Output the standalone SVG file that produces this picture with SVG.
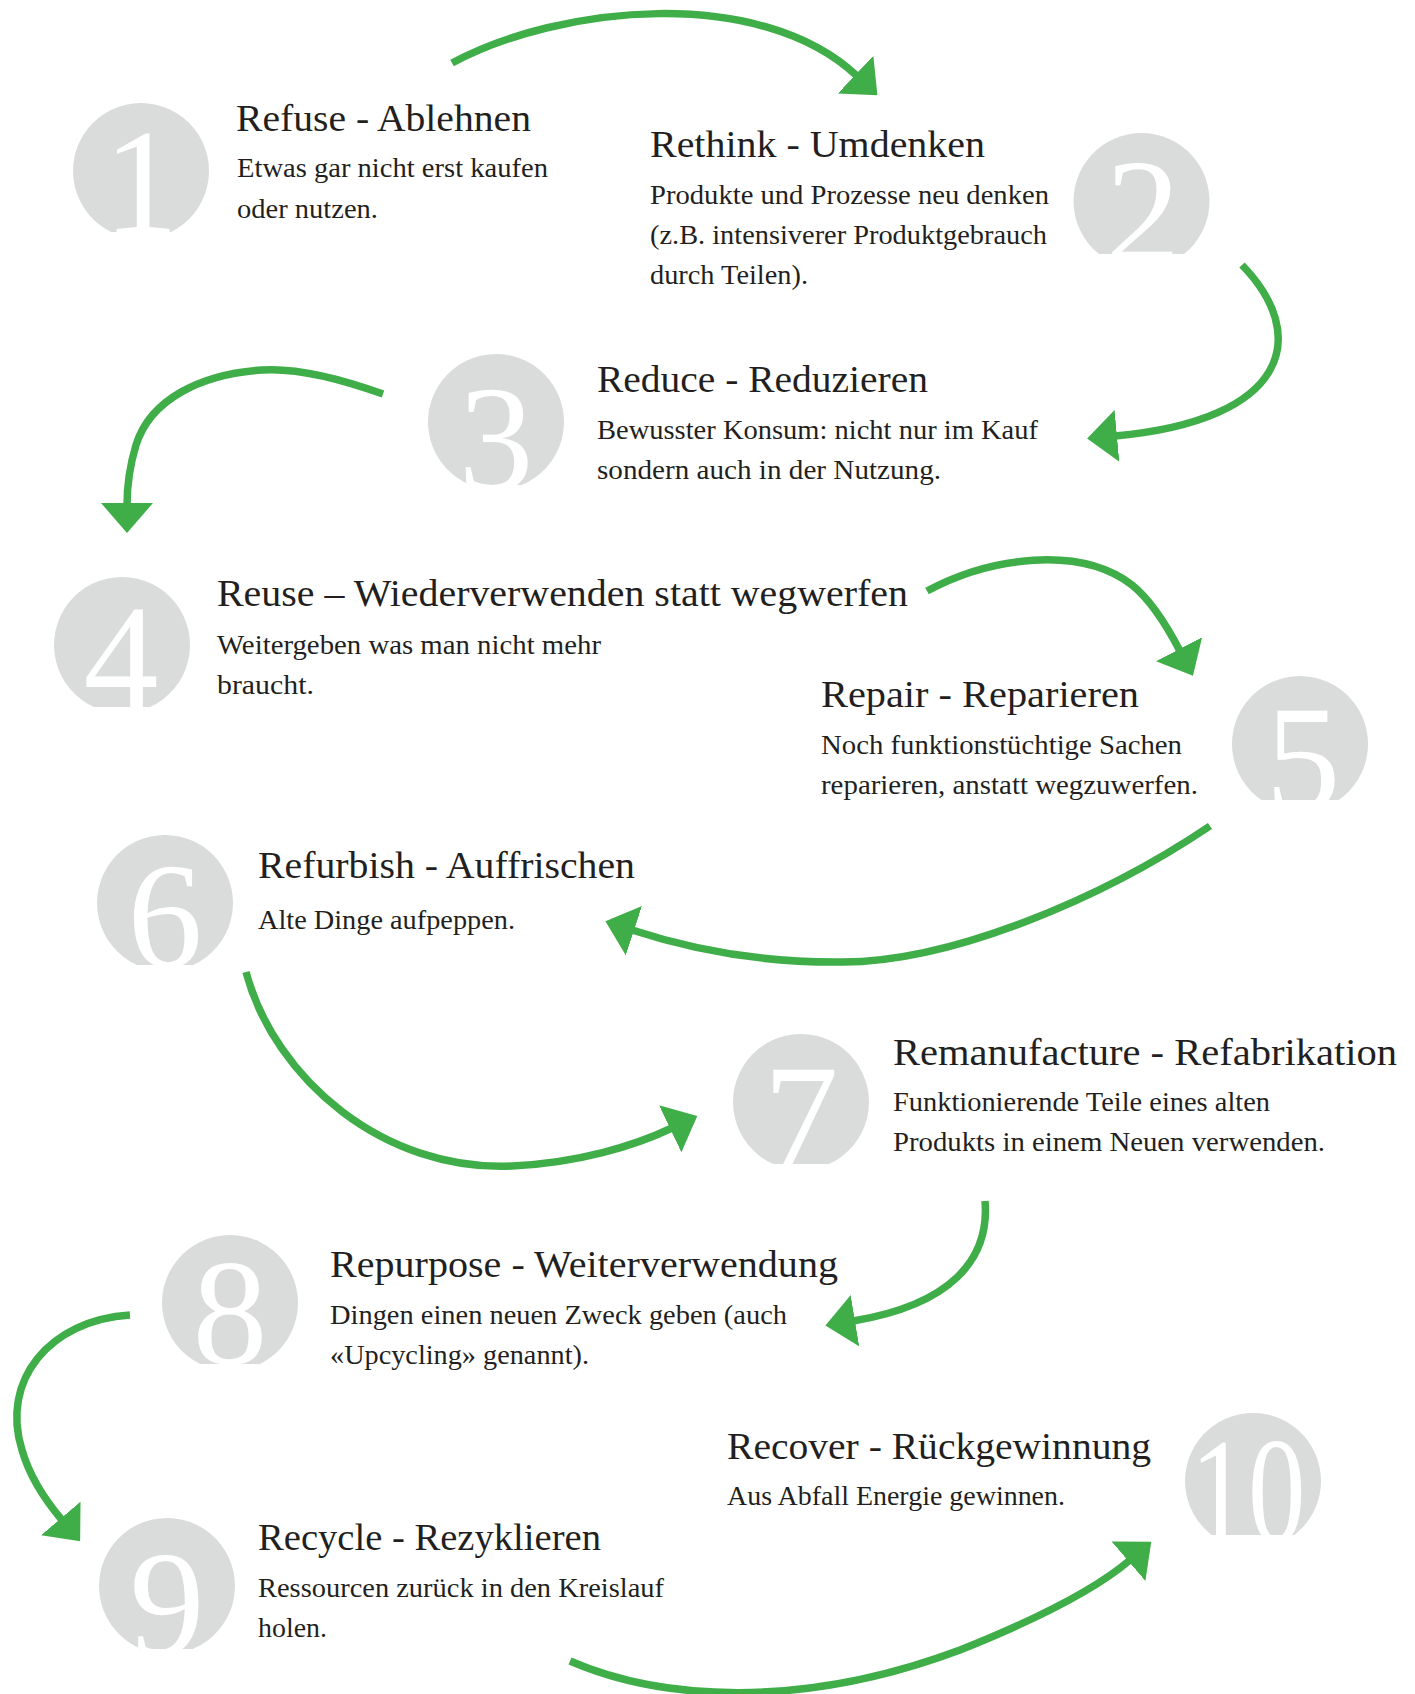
<svg xmlns="http://www.w3.org/2000/svg" xmlns:xlink="http://www.w3.org/1999/xlink" width="1415" height="1694" viewBox="0 0 1415 1694">
<style>
.disc{fill:#dadbdb}
.num{fill:#ffffff;font-family:"Liberation Serif","DejaVu Serif",serif;font-size:150px;text-anchor:middle}
.title{fill:#231f20;font-family:"Liberation Serif","DejaVu Serif",serif;font-size:38px}
.body{fill:#231f20;font-family:"Liberation Serif","DejaVu Serif",serif;font-size:27.5px}
.arrow{fill:none;stroke:#3fae49;stroke-width:7.5;marker-end:url(#head)}
</style>
<defs>
<marker id="head" markerUnits="userSpaceOnUse" viewBox="0 0 30 52" refX="2" refY="26" markerWidth="30" markerHeight="52" orient="auto">
<path d="M0,0 L30,26 L0,52 Z" fill="#3fae49"/>
</marker>
<path id="d1" d="M111,232 A68,68 0 1 1 171,232 Z"/>
<path id="d2" d="M1098.9,254 A68,68 0 1 1 1184.1,254 Z"/>
<path id="d3" d="M470.4,485 A68,68 0 1 1 521.6,485 Z"/>
<path id="d4" d="M94.1,707 A68,68 0 1 1 149.9,707 Z"/>
<path id="d5" d="M1261.4,800 A68,68 0 1 1 1338.6,800 Z"/>
<path id="d6" d="M137.1,965 A68,68 0 1 1 192.9,965 Z"/>
<path id="d7" d="M773.1,1164 A68,68 0 1 1 828.9,1164 Z"/>
<path id="d8" d="M200,1364 A68,68 0 1 1 260,1364 Z"/>
<path id="d9" d="M141.4,1649 A68,68 0 1 1 192.6,1649 Z"/>
<path id="d10" d="M1211.7,1535 A68,68 0 1 1 1294.3,1535 Z"/>
<clipPath id="c1"><use xlink:href="#d1"/></clipPath>
<clipPath id="c2"><use xlink:href="#d2"/></clipPath>
<clipPath id="c3"><use xlink:href="#d3"/></clipPath>
<clipPath id="c4"><use xlink:href="#d4"/></clipPath>
<clipPath id="c5"><use xlink:href="#d5"/></clipPath>
<clipPath id="c6"><use xlink:href="#d6"/></clipPath>
<clipPath id="c7"><use xlink:href="#d7"/></clipPath>
<clipPath id="c8"><use xlink:href="#d8"/></clipPath>
<clipPath id="c9"><use xlink:href="#d9"/></clipPath>
<clipPath id="c10"><use xlink:href="#d10"/></clipPath>
</defs>
<rect width="1415" height="1694" fill="#ffffff"/>

<g id="connectors">
<path class="arrow" d="M452,63 C560,5 760,-15 857,76"/>
<path class="arrow" d="M1242,265 C1310,335 1290,420 1115,436"/>
<path class="arrow" d="M383,394 C330,375 290,368 262,370 C200,374 150,400 136,445 C130,465 127,485 127,505"/>
<path class="arrow" d="M927,591 C990,557 1080,545 1132,585 C1152,601 1168,628 1180,651"/>
<path class="arrow" d="M1210,826 C1100,900 950,962 843,962 C760,963 690,949 632,930"/>
<path class="arrow" d="M246,972 C275,1080 385,1172 512,1166 C578,1163 634,1146 672,1128"/>
<path class="arrow" d="M985,1201 C990,1260 950,1305 853,1321"/>
<path class="arrow" d="M130,1315 C50,1320 0,1380 22,1450 C30,1478 45,1500 62,1520"/>
<path class="arrow" d="M570,1661 C660,1700 800,1710 960,1650 C1035,1620 1095,1590 1130,1560"/>
</g>

<g id="node1">
<use xlink:href="#d1" class="disc"/>
<text class="num" x="141" y="233" clip-path="url(#c1)">1</text>
<text class="title" x="236" y="131" textLength="295" lengthAdjust="spacingAndGlyphs">Refuse - Ablehnen</text>
<text class="body" x="237" y="177" textLength="311" lengthAdjust="spacingAndGlyphs">Etwas gar nicht erst kaufen</text>
<text class="body" x="237" y="218" textLength="141" lengthAdjust="spacingAndGlyphs">oder nutzen.</text>
</g>

<g id="node2">
<use xlink:href="#d2" class="disc"/>
<text class="num" x="1143" y="263" clip-path="url(#c2)">2</text>
<text class="title" x="650" y="157" textLength="335" lengthAdjust="spacingAndGlyphs">Rethink - Umdenken</text>
<text class="body" x="650" y="204" textLength="399" lengthAdjust="spacingAndGlyphs">Produkte und Prozesse neu denken</text>
<text class="body" x="650" y="244" textLength="397" lengthAdjust="spacingAndGlyphs">(z.B. intensiverer Produktgebrauch</text>
<text class="body" x="650" y="284" textLength="158" lengthAdjust="spacingAndGlyphs">durch Teilen).</text>
</g>

<g id="node3">
<use xlink:href="#d3" class="disc"/>
<text class="num" x="496" y="490" clip-path="url(#c3)">3</text>
<text class="title" x="597" y="392" textLength="331" lengthAdjust="spacingAndGlyphs">Reduce - Reduzieren</text>
<text class="body" x="597" y="439" textLength="441" lengthAdjust="spacingAndGlyphs">Bewusster Konsum: nicht nur im Kauf</text>
<text class="body" x="597" y="479" textLength="344" lengthAdjust="spacingAndGlyphs">sondern auch in der Nutzung.</text>
</g>

<g id="node4">
<use xlink:href="#d4" class="disc"/>
<text class="num" x="121" y="709" clip-path="url(#c4)">4</text>
<text class="title" x="217" y="606" textLength="691" lengthAdjust="spacingAndGlyphs">Reuse – Wiederverwenden statt wegwerfen</text>
<text class="body" x="217" y="654" textLength="384" lengthAdjust="spacingAndGlyphs">Weitergeben was man nicht mehr</text>
<text class="body" x="217" y="694" textLength="97" lengthAdjust="spacingAndGlyphs">braucht.</text>
</g>

<g id="node5">
<use xlink:href="#d5" class="disc"/>
<text class="num" x="1303" y="810" clip-path="url(#c5)">5</text>
<text class="title" x="821" y="707" textLength="318" lengthAdjust="spacingAndGlyphs">Repair - Reparieren</text>
<text class="body" x="821" y="754" textLength="361" lengthAdjust="spacingAndGlyphs">Noch funktionstüchtige Sachen</text>
<text class="body" x="821" y="794" textLength="377" lengthAdjust="spacingAndGlyphs">reparieren, anstatt wegzuwerfen.</text>
</g>

<g id="node6">
<use xlink:href="#d6" class="disc"/>
<text class="num" x="165" y="967" clip-path="url(#c6)">6</text>
<text class="title" x="258" y="878" textLength="377" lengthAdjust="spacingAndGlyphs">Refurbish - Auffrischen</text>
<text class="body" x="258" y="929" textLength="257" lengthAdjust="spacingAndGlyphs">Alte Dinge aufpeppen.</text>
</g>

<g id="node7">
<use xlink:href="#d7" class="disc"/>
<text class="num" x="801" y="1168" clip-path="url(#c7)">7</text>
<text class="title" x="893" y="1065" textLength="504" lengthAdjust="spacingAndGlyphs">Remanufacture - Refabrikation</text>
<text class="body" x="893" y="1111" textLength="377" lengthAdjust="spacingAndGlyphs">Funktionierende Teile eines alten</text>
<text class="body" x="893" y="1151" textLength="432" lengthAdjust="spacingAndGlyphs">Produkts in einem Neuen verwenden.</text>
</g>

<g id="node8">
<use xlink:href="#d8" class="disc"/>
<text class="num" x="230" y="1364" clip-path="url(#c8)">8</text>
<text class="title" x="330" y="1277" textLength="508" lengthAdjust="spacingAndGlyphs">Repurpose - Weiterverwendung</text>
<text class="body" x="330" y="1324" textLength="457" lengthAdjust="spacingAndGlyphs">Dingen einen neuen Zweck geben (auch</text>
<text class="body" x="330" y="1364" textLength="259" lengthAdjust="spacingAndGlyphs">«Upcycling» genannt).</text>
</g>

<g id="node9">
<use xlink:href="#d9" class="disc"/>
<text class="num" x="167" y="1655" clip-path="url(#c9)">9</text>
<text class="title" x="258" y="1550" textLength="343" lengthAdjust="spacingAndGlyphs">Recycle - Rezyklieren</text>
<text class="body" x="258" y="1597" textLength="406" lengthAdjust="spacingAndGlyphs">Ressourcen zurück in den Kreislauf</text>
<text class="body" x="258" y="1637" textLength="69" lengthAdjust="spacingAndGlyphs">holen.</text>
</g>

<g id="node10">
<use xlink:href="#d10" class="disc"/>
<text class="num" x="1248" y="1542" textLength="115" lengthAdjust="spacingAndGlyphs" clip-path="url(#c10)">10</text>
<text class="title" x="727" y="1459" textLength="424" lengthAdjust="spacingAndGlyphs">Recover - Rückgewinnung</text>
<text class="body" x="727" y="1505" textLength="338" lengthAdjust="spacingAndGlyphs">Aus Abfall Energie gewinnen.</text>
</g>
</svg>
